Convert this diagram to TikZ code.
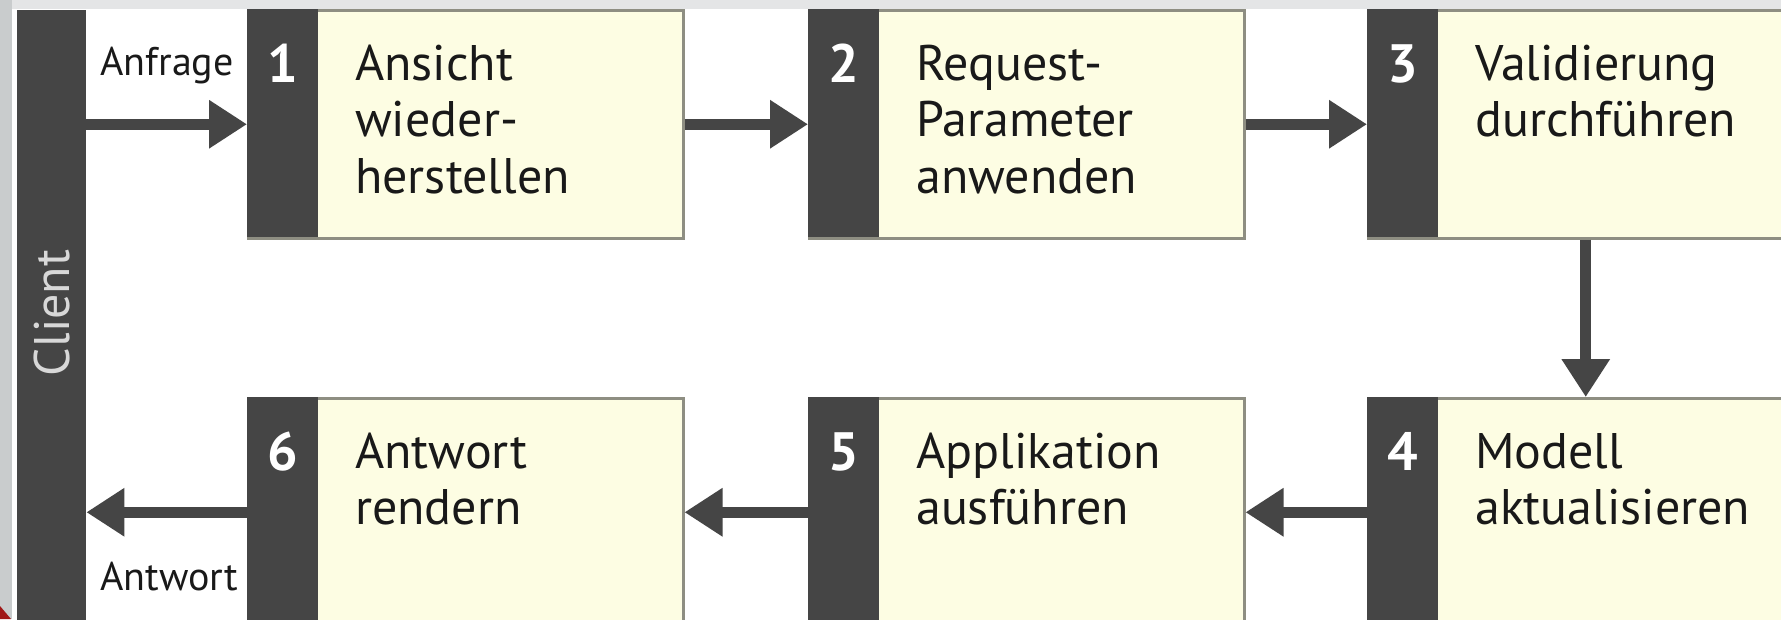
\documentclass[tikz,border=0pt]{standalone}
\usepackage{fontspec}
\setmainfont{PT Sans}
\usetikzlibrary{arrows.meta}
\definecolor{dark}{HTML}{454545}
\definecolor{cream}{HTML}{FDFDE3}
\definecolor{edge}{HTML}{8E8E82}
\definecolor{frameA}{HTML}{C9CCCD}
\definecolor{frameB}{HTML}{E4E5E6}
\definecolor{slidered}{HTML}{A01818}
\definecolor{clienttxt}{HTML}{D8D8D8}
\tikzset{
  box/.style={draw=edge, line width=2.5pt, fill=cream, rectangle, inner sep=0pt,
    minimum width=435pt, minimum height=228pt, anchor=north west},
  bar/.style={fill=dark},
  digit/.style={text=white, font=\fontsize{54}{60}\bfseries\selectfont, anchor=base, inner sep=0pt},
  boxtext/.style={font=\fontsize{50}{56.5}\selectfont, anchor=base west, inner sep=0pt, text=black!90},
  lbl/.style={font=\fontsize{40}{46}\selectfont, anchor=base, inner sep=0pt, text=black!90},
  arr/.style={draw=dark, line width=11pt, -{Triangle[length=38pt,width=46pt]}},
}
\newcommand{\stepbox}[5]{%
  % #1 name, #2 x, #3 y, #4 digit, #5 text
  \node[box] (#1) at (#2,#3) {};
  \fill[bar] (#1.north west) rectangle ++(71,228);
  \node[digit] (#1d) at ([xshift=35.5pt,yshift=-73pt]#1.north west) {#4};
  \node[boxtext] (#1t) at ([xshift=108pt,yshift=-71pt]#1.north west)
    {\begin{tabular}[t]{@{}l@{}}#5\end{tabular}};
}
\begin{document}
\begin{tikzpicture}[x=1pt,y=-1pt]
\useasboundingbox (0,0) rectangle (1781,619);
\fill[white] (0,0) rectangle (1781,619);
\fill[frameB] (0,0) rectangle (1781,9);
\fill[frameA] (0,0) rectangle (12,619);
\fill[slidered] (0,606) -- (11,619) -- (0,619) -- cycle;

\node[fill=dark, rectangle, inner sep=0pt, minimum width=69pt, minimum height=615pt, anchor=north west] (client) at (17,10) {};
\node[rotate=90, text=clienttxt, font=\fontsize{50}{56.5}\selectfont, inner sep=0pt] (clientlbl) at (52,313) {Client};

\stepbox{b1}{247}{9}{1}{Ansicht\\wieder-\\herstellen}
\stepbox{b2}{808}{9}{2}{Request-\\Parameter\\anwenden}
\stepbox{b3}{1367}{9}{3}{Validierung\\durchführen}
\stepbox{b4}{1367}{397}{4}{Modell\\aktualisieren}
\stepbox{b5}{808}{397}{5}{Applikation\\ausführen}
\stepbox{b6}{247}{397}{6}{Antwort\\rendern}

\draw[arr] (client.east |- b1.west) -- (b1.west);
\draw[arr] (b1.east) -- (b2.west);
\draw[arr] (b2.east) -- (b3.west);
\draw[arr] (b3.south) -- (b4.north);
\draw[arr] (b4.west) -- (b5.east);
\draw[arr] (b5.west) -- (b6.east);
\draw[arr] (b6.west) -- (client.east |- b6.west);

\node[lbl] (anfrage) at (167,75) {Anfrage};
\node[lbl] (antwort) at (169,590) {Antwort};
\end{tikzpicture}
\end{document}
